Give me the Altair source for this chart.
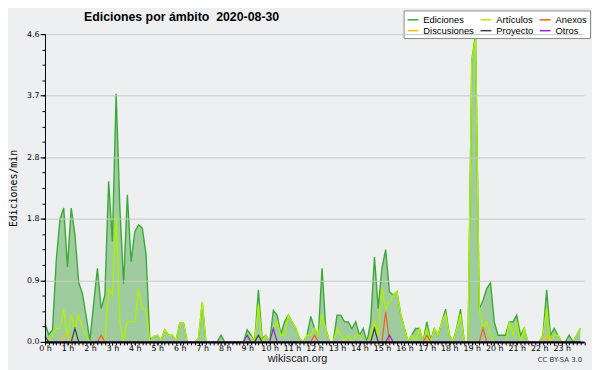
import altair as alt
import pandas as pd

# --- data (10-minute samples, 144 per day) ---
ediciones = [
    0.28, 0.11, 0.18, 1.21, 1.83, 2.0, 1.12, 2.0, 1.6, 0.89, 0.72, 0.38,
    0.02, 0.57, 1.1, 0.5, 0.7, 2.4, 1.5, 3.71, 2.0, 0.87, 2.2, 1.2,
    1.65, 1.75, 1.7, 1.3, 0.03, 0.08, 0.1, 0.02, 0.18, 0.1, 0.1, 0.02,
    0.28, 0.28, 0.0, 0.0, 0.0, 0.05, 0.58, 0.0, 0.0, 0.0, 0.0, 0.1,
    0.0, 0.0, 0.0, 0.0, 0.0, 0.0, 0.18, 0.1, 0.0, 0.78, 0.05, 0.1,
    0.0, 0.47, 0.4, 0.12, 0.3, 0.4, 0.3, 0.2, 0.05, 0.0, 0.1, 0.38,
    0.2, 0.1, 1.1, 0.2, 0.0, 0.0, 0.4, 0.4, 0.3, 0.3, 0.2, 0.3,
    0.1, 0.2, 0.0, 0.3, 1.27, 0.5, 1.1, 1.38, 0.75, 0.7, 0.75, 0.42,
    0.2, 0.0, 0.11, 0.2, 0.2, 0.0, 0.3, 0.03, 0.2, 0.1, 0.3, 0.49,
    0.1, 0.0, 0.22, 0.49, 0.0, 0.0, 4.2, 4.6, 0.5, 0.62, 0.8, 0.88,
    0.3, 0.1, 0.1, 0.1, 0.3, 0.3, 0.4, 0.1, 0.2, 0.0, 0.0, 0.0,
    0.0, 0.1, 0.78, 0.1, 0.2, 0.1, 0.0, 0.0, 0.1, 0.0, 0.1, 0.2,
]
articulos = [
    0.08, 0.0, 0.1, 0.2, 0.2, 0.49, 0.07, 0.4, 0.2, 0.4, 0.2, 0.1,
    0.0, 0.0, 0.0, 0.0, 0.0, 0.8, 0.7, 1.9, 0.3, 0.0, 0.3, 0.3,
    0.3, 0.79, 0.49, 0.49, 0.0, 0.08, 0.1, 0.02, 0.18, 0.1, 0.1, 0.02,
    0.28, 0.28, 0.0, 0.0, 0.0, 0.05, 0.6, 0.0, 0.0, 0.0, 0.0, 0.0,
    0.0, 0.0, 0.0, 0.0, 0.0, 0.0, 0.1, 0.08, 0.0, 0.56, 0.0, 0.1,
    0.0, 0.2, 0.3, 0.1, 0.1, 0.4, 0.3, 0.2, 0.05, 0.0, 0.1, 0.1,
    0.2, 0.1, 0.4, 0.2, 0.0, 0.0, 0.2, 0.1, 0.0, 0.1, 0.0, 0.1,
    0.1, 0.0, 0.0, 0.1, 0.3, 0.1, 0.8, 0.5, 0.6, 0.7, 0.75, 0.42,
    0.2, 0.0, 0.1, 0.0, 0.2, 0.0, 0.2, 0.0, 0.2, 0.1, 0.3, 0.42,
    0.1, 0.0, 0.2, 0.42, 0.0, 0.0, 4.2, 4.55, 0.5, 0.2, 0.3, 0.1,
    0.0, 0.0, 0.0, 0.0, 0.3, 0.1, 0.3, 0.0, 0.2, 0.0, 0.0, 0.0,
    0.0, 0.1, 0.5, 0.0, 0.1, 0.1, 0.0, 0.0, 0.0, 0.0, 0.1, 0.2,
]
# sparse series: {sample index: value}
anexos = {15: 0.1, 72: 0.1, 91: 0.45, 102: 0.1, 117: 0.2}
discusiones = {5: 0.1, 6: 0.1, 134: 0.1}
proyecto = {0: 0.08, 8: 0.2, 57: 0.1, 88: 0.2}
otros = {54: 0.1, 61: 0.2, 92: 0.1}

series_names = ["Ediciones", "Artículos", "Anexos", "Discusiones", "Proyecto", "Otros"]
series_colors = ["#3aaa35", "#aef000", "#f0601e", "#f5c400", "#404040", "#9020e0"]
hour_labels = list(range(24))
y_major = [0.0, 0.92, 1.84, 2.76, 3.68, 4.6]
title_text = "Ediciones por ámbito\u00a0\u00a02020-08-30"
credit_text = "CC BY-SA 3.0"

N = len(ediciones)
rows = []
full = {
    "Ediciones": ediciones,
    "Artículos": articulos,
    "Anexos": [anexos.get(i, 0.0) for i in range(N)],
    "Discusiones": [discusiones.get(i, 0.0) for i in range(N)],
    "Proyecto": [proyecto.get(i, 0.0) for i in range(N)],
    "Otros": [otros.get(i, 0.0) for i in range(N)],
}
for name in series_names:
    for i, v in enumerate(full[name]):
        rows.append({"t": i / 6.0, "v": v, "serie": name})
df = pd.DataFrame(rows)

BG = "#eeeff1"
W, H = 546.5, 312
FONT = "DejaVu Sans"

xscale = alt.Scale(domain=[0, 24], nice=False, zero=True)
yscale = alt.Scale(domain=[0, 4.6], nice=False, zero=True)
cscale = alt.Scale(domain=series_names, range=series_colors)

minor_x_axis = alt.Axis(values=[k / 6.0 for k in range(145)], labels=False, tickSize=3,
                        tickColor="black", domain=False, grid=False, title=None,
                        orient="bottom", zindex=1)
minor_y_axis = alt.Axis(values=[round(0.23 * k, 2) for k in range(21)], labels=False,
                        tickSize=3, tickColor="black", domain=False, grid=False,
                        title=None, orient="left", zindex=1)
major_x_axis = alt.Axis(values=hour_labels, labelExpr="datum.value + ' h'", tickSize=3,
                        tickColor="black", domainColor="black", domainWidth=2,
                        grid=False, labelFont=FONT, labelFontSize=8, labelColor="#000",
                        labelPadding=0, labelFlush=False, labelOverlap=False,
                        title="wikiscan.org", titleFont="Liberation Sans",
                        titleFontSize=11, titleFontWeight="normal", titleColor="#222",
                        titleX=255.5, titleY=20, titleBaseline="alphabetic",
                        titleAlign="center", orient="bottom", zindex=1)
major_y_axis = alt.Axis(values=y_major, format=".1f", tickSize=5, tickColor="black",
                        domainColor="black", domainWidth=1, grid=True,
                        gridColor="#c8c8c8", gridWidth=1, labelFont=FONT,
                        labelFontSize=8, labelColor="#000", labelPadding=1,
                        title="Ediciones/min", titleFont="DejaVu Sans Mono",
                        titleFontSize=10, titleFontWeight="normal", titleColor="#000",
                        titleAngle=270, titleAlign="center", titleBaseline="middle",
                        titleX=-31.5, titleY=156, orient="left", zindex=1)

base = alt.Chart(df)

area = base.transform_filter(alt.datum.serie == "Ediciones").mark_area(
    color="#9fcc9f", opacity=1
).encode(
    x=alt.X("t:Q", scale=xscale, axis=minor_x_axis),
    y=alt.Y("v:Q", scale=yscale, axis=minor_y_axis),
)

ed_line = base.transform_filter(alt.datum.serie == "Ediciones").mark_line(
    strokeWidth=1.4
).encode(
    x=alt.X("t:Q", scale=xscale, axis=major_x_axis),
    y=alt.Y("v:Q", scale=yscale, axis=major_y_axis),
    color=alt.Color("serie:N", scale=cscale),
)

art_line = base.transform_filter(alt.datum.serie == "Artículos").mark_line(
    strokeWidth=1.4
).encode(
    x=alt.X("t:Q", scale=xscale, axis=None),
    y=alt.Y("v:Q", scale=yscale, axis=None),
    color=alt.Color("serie:N", scale=cscale),
)

minor_lines = base.transform_filter(
    alt.FieldOneOfPredicate(field="serie", oneOf=["Anexos", "Discusiones", "Proyecto", "Otros"])
).mark_line(strokeWidth=1.2).encode(
    x=alt.X("t:Q", scale=xscale, axis=None),
    y=alt.Y("v:Q", scale=yscale, axis=None),
    color=alt.Color("serie:N", scale=cscale),
)

cc = alt.Chart(pd.DataFrame({"txt": [credit_text]})).mark_text(
    align="right", baseline="alphabetic", font=FONT, fontSize=7, color="#333"
).encode(x=alt.value(544.5), y=alt.value(332), text="txt:N")

title = alt.Chart(pd.DataFrame({"txt": [title_text]})).mark_text(
    align="left", baseline="alphabetic", font="Liberation Sans", fontSize=12.5,
    fontWeight="bold", color="#000"
).encode(x=alt.value(39.5), y=alt.value(-13.7), text="txt:N")

chart = alt.layer(area, ed_line, art_line, minor_lines, cc, title).resolve_axis(
    x="independent", y="independent"
).properties(
    width=W, height=H,
    autosize=alt.AutoSizeParams(type="none"),
    padding={"left": 37.5, "top": 24, "right": 8, "bottom": 26},
    background=BG,
).configure_view(stroke="transparent", fill=BG).configure_legend(
    orient="none", legendX=363.5, legendY=-24, direction="horizontal", columns=3,
    columnPadding=3, rowPadding=0, padding=3, fillColor="white", strokeColor="#888",
    symbolType="stroke", symbolSize=121, symbolStrokeWidth=1.5,
    labelFont="Liberation Sans", labelFontSize=9.5, labelColor="#000",
    labelOffset=4, title=None, cornerRadius=0,
)

chart.save("out.html", embed_options={"renderer": "svg", "actions": False})
